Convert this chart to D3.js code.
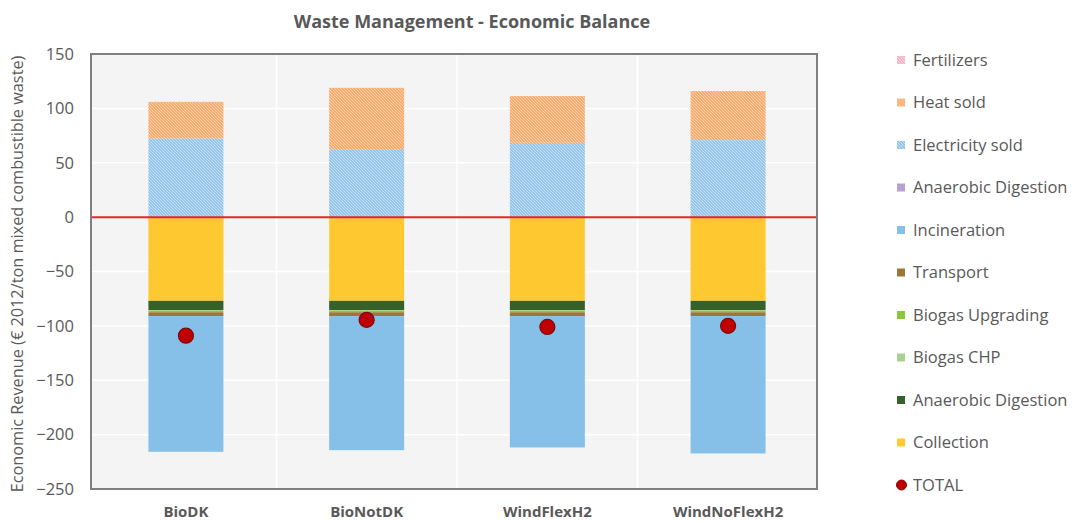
<!DOCTYPE html>
<html>
<head>
<meta charset="utf-8">
<script src="https://cdn.jsdelivr.net/npm/d3@7"></script>
<style>
  html, body { margin: 0; padding: 0; background: #ffffff; }
  svg { display: block; font-family: "Open Sans", "Noto Sans", sans-serif; }
</style>
</head>
<body>
<svg id="chart" width="1072" height="523"></svg>
<script>
// ---------- data ----------
const categories = ["BioDK", "BioNotDK", "WindFlexH2", "WindNoFlexH2"];
const collection = [-77, -77, -77, -77];
const anaerobicDigestionCost = [-8.5, -8.5, -8.5, -8.5];
const biogasCHP = [-0.5, -0.5, -0.5, -0.5];
const biogasUpgrading = [-1.5, -1.5, -1.5, -1.5];
const transport = [-3.5, -3.5, -3.5, -3.5];
const incineration = [-124.8, -123.3, -120.8, -126.3];
const anaerobicDigestionRevenue = [0, 0, 0, 0];
const electricitySold = [72.4, 62.5, 68.3, 70.8];
const heatSold = [33.6, 56.4, 43.0, 45.1];
const fertilizers = [0, 0, 0, 0];
const total = [-109, -94.5, -101, -100];
const yTicks = [150, 100, 50, 0, -50, -100, -150, -200, -250];

const seriesKeys = ["collection", "adCost", "biogasCHP", "biogasUpgrading", "transport",
                    "incineration", "adRev", "electricity", "heat", "fertilizers"];
const seriesLabels = {
  collection: "Collection", adCost: "Anaerobic Digestion", biogasCHP: "Biogas CHP",
  biogasUpgrading: "Biogas Upgrading", transport: "Transport", incineration: "Incineration",
  adRev: "Anaerobic Digestion", electricity: "Electricity sold", heat: "Heat sold",
  fertilizers: "Fertilizers"
};
const seriesFill = {
  collection: "#fec930", adCost: "#37612a", biogasCHP: "#a9d08e", biogasUpgrading: "#8cc63f",
  transport: "#9e7638", incineration: "#86bfe7", adRev: "#b4a3cc",
  electricity: "url(#patElec)", heat: "url(#patHeat)", fertilizers: "url(#patFert)"
};

const table = categories.map((c, i) => ({
  cat: c,
  collection: collection[i], adCost: anaerobicDigestionCost[i], biogasCHP: biogasCHP[i],
  biogasUpgrading: biogasUpgrading[i], transport: transport[i], incineration: incineration[i],
  adRev: anaerobicDigestionRevenue[i], electricity: electricitySold[i], heat: heatSold[i],
  fertilizers: fertilizers[i], total: total[i]
}));

// ---------- layout ----------
const svg = d3.select("#chart");
const plot = { left: 91, right: 817, top: 54, bottom: 489 };
const textColor = "#595959";

const x = d3.scaleBand().domain(categories).range([96, 818]).paddingInner(0.585).paddingOuter(0.29);
const xStep = d3.scaleBand().domain(categories).range([96, 818]);
const y = d3.scaleLinear().domain([-250, 150]).range([plot.bottom, plot.top]);

// patterns
const defs = svg.append("defs");
function hatch(id, bg, line, op) {
  const p = defs.append("pattern").attr("id", id).attr("patternUnits", "userSpaceOnUse")
    .attr("width", 3).attr("height", 3);
  p.append("rect").attr("width", 3).attr("height", 3).attr("fill", bg);
  p.append("path").attr("d", "M-1,2 l2,2 M0,0 l3,3 M2,-1 l2,2")
    .attr("stroke", line).attr("stroke-width", 0.8).attr("stroke-opacity", op);
}
hatch("patElec", "#96c5ea", "#ffffff", 0.55);
hatch("patHeat", "#f7ad70", "#ffffff", 0.5);
hatch("patFert", "#f2b3c7", "#ffffff", 0.6);

// plot background
svg.append("rect").attr("x", plot.left).attr("y", plot.top)
  .attr("width", plot.right - plot.left).attr("height", plot.bottom - plot.top)
  .attr("fill", "#f4f4f4");

// horizontal gridlines
svg.append("g").selectAll("line").data(yTicks).join("line")
  .attr("x1", plot.left).attr("x2", plot.right)
  .attr("y1", d => y(d)).attr("y2", d => y(d))
  .attr("stroke", "#ffffff").attr("stroke-width", 1.5);

// vertical gridlines at category boundaries
svg.append("g").selectAll("line").data(categories.slice(1)).join("line")
  .attr("x1", d => xStep(d)).attr("x2", d => xStep(d))
  .attr("y1", plot.top).attr("y2", plot.bottom)
  .attr("stroke", "#ffffff").attr("stroke-width", 1.5);

// stacked bars
const stacked = d3.stack().keys(seriesKeys).offset(d3.stackOffsetDiverging)(table);
svg.append("g").selectAll("g").data(stacked).join("g")
  .attr("fill", d => seriesFill[d.key])
  .selectAll("rect").data(d => d).join("rect")
  .attr("x", d => x(d.data.cat))
  .attr("width", x.bandwidth())
  .attr("y", d => y(Math.max(d[0], d[1])))
  .attr("height", d => Math.abs(y(d[0]) - y(d[1])));

// zero line
svg.append("line").attr("x1", plot.left).attr("x2", plot.right)
  .attr("y1", y(0)).attr("y2", y(0))
  .attr("stroke", "#e3262b").attr("stroke-width", 2);

// total markers
svg.append("g").selectAll("circle").data(table).join("circle")
  .attr("cx", d => x(d.cat) + x.bandwidth() / 2)
  .attr("cy", d => y(d.total))
  .attr("r", 7.5)
  .attr("fill", "#c00000").attr("stroke", "#7a0c0c").attr("stroke-width", 1.2);

// frame
svg.append("rect").attr("x", plot.left).attr("y", plot.top)
  .attr("width", plot.right - plot.left).attr("height", plot.bottom - plot.top)
  .attr("fill", "none").attr("stroke", "#7f7f7f").attr("stroke-width", 2);

// y axis
const yAxis = d3.axisLeft(y).tickValues(yTicks).tickSize(0).tickPadding(0);
const gy = svg.append("g").attr("transform", `translate(${74},0)`).call(yAxis);
gy.select(".domain").remove();
gy.selectAll("text").attr("fill", textColor).attr("font-size", 16.5)
  .attr("font-family", "'Open Sans', sans-serif");

// x axis labels
const xAxis = d3.axisBottom(x).tickSize(0).tickPadding(0);
const gx = svg.append("g").attr("transform", `translate(0,${506})`).call(xAxis);
gx.select(".domain").remove();
gx.selectAll("text").attr("fill", textColor).attr("font-size", 15).attr("font-weight", "bold")
  .attr("font-family", "'Open Sans', sans-serif");

// y axis title
svg.append("text")
  .attr("transform", `translate(23,${274}) rotate(-90)`)
  .attr("text-anchor", "middle").attr("fill", textColor).attr("font-size", 16.3)
  .text("Economic Revenue (€ 2012/ton mixed combustible waste)");

// title
svg.append("text").attr("x", 472).attr("y", 28).attr("text-anchor", "middle")
  .attr("fill", textColor).attr("font-size", 18).attr("font-weight", "bold")
  .text("Waste Management - Economic Balance");

// legend
const legendItems = seriesKeys.slice().reverse().map(k => ({ label: seriesLabels[k], fill: seriesFill[k], type: "rect" }));
legendItems.push({ label: "TOTAL", fill: "#c00000", type: "circle" });
const lg = svg.append("g").selectAll("g").data(legendItems).join("g")
  .attr("transform", (d, i) => `translate(897,${60 + i * 42.5})`);
lg.filter(d => d.type === "rect").append("rect")
  .attr("x", 0).attr("y", -4).attr("width", 8).attr("height", 8).attr("fill", d => d.fill);
lg.filter(d => d.type === "circle").append("circle")
  .attr("cx", 4.5).attr("cy", 0).attr("r", 5).attr("fill", "#c00000").attr("stroke", "#7a0c0c");
lg.append("text").attr("x", 16).attr("y", 0).attr("dy", "0.36em")
  .attr("fill", textColor).attr("font-size", 16.5).text(d => d.label);
</script>
</body>
</html>
